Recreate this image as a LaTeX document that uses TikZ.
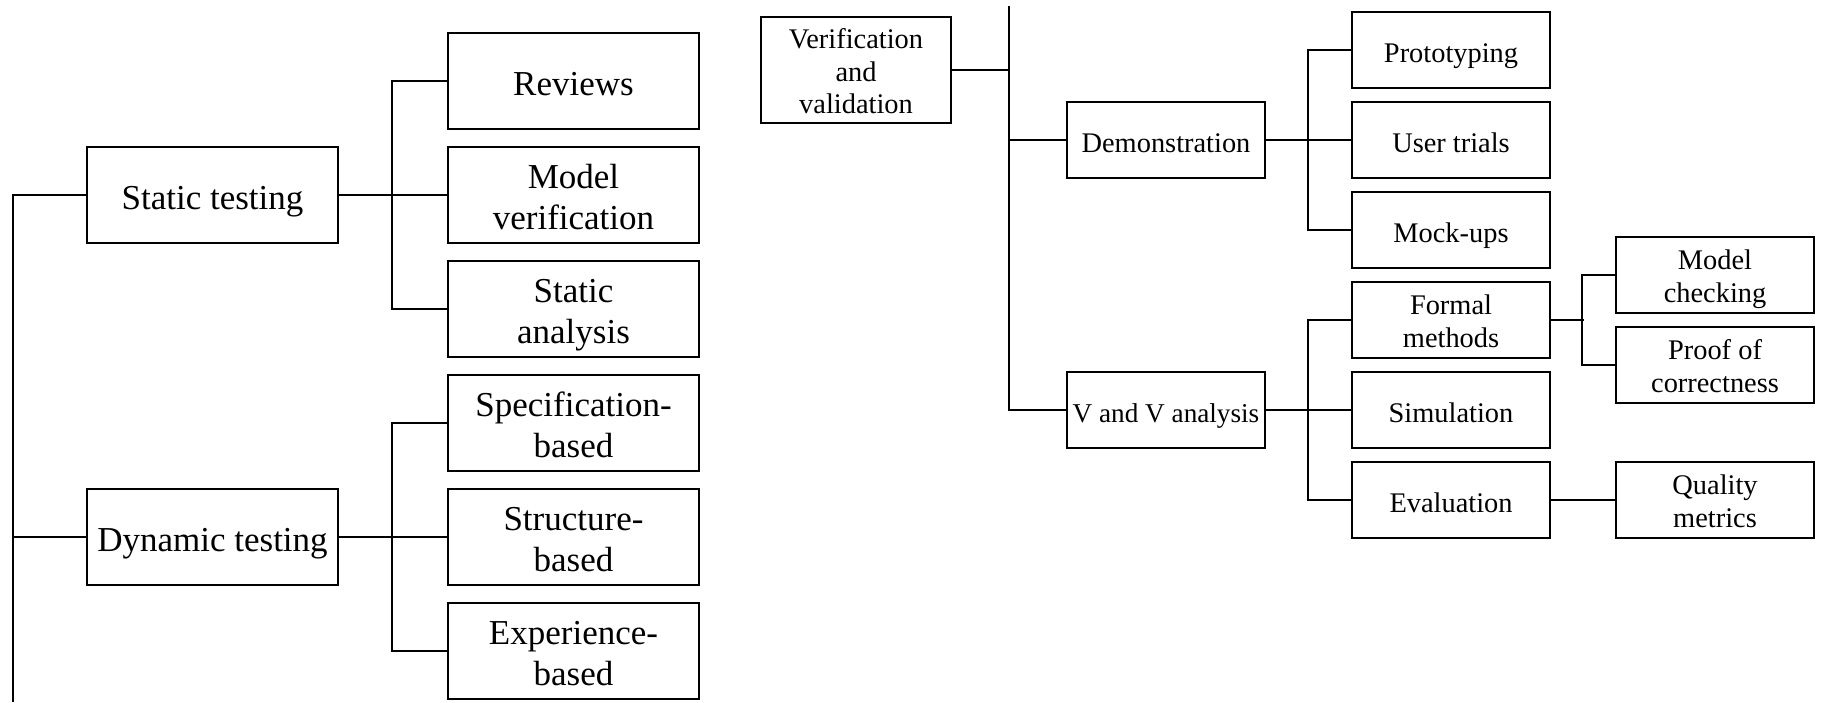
\documentclass[tikz,border=0pt]{standalone}
\usepackage{fontspec}
\setmainfont{Liberation Serif}
\begin{document}
\begin{tikzpicture}[x=0.5pt,y=-0.5pt,
  bx/.style={draw, line width=0.9pt, inner sep=0pt, align=center, text depth=0pt},
  lbox/.style={bx, minimum width=125.5pt, minimum height=48pt, font=\fontsize{17.5pt}{20.3pt}\selectfont},
  rbox/.style={bx, minimum width=99pt, minimum height=38pt, font=\fontsize{14.2pt}{16.3pt}\selectfont},
  lone/.style={lbox, text height=14pt},
  ltwo/.style={lbox, text height=34.2pt},
  rone/.style={rbox, text height=12.3pt},
  rtwo/.style={rbox, text height=27.3pt},
  conn/.style={line width=0.8pt},
  thickc/.style={line width=1.3pt}]
\useasboundingbox (0,0) rectangle (1823,702);
% ---------- left tree ----------
\node[lone] (st) at (212.5,195) {Static testing};
\node[lone] (dt) at (212.5,537) {Dynamic testing};
\node[lone] (rev) at (573.5,81) {Reviews};
\node[ltwo] (mv) at (573.5,195) {Model\\verification};
\node[ltwo] (sa) at (573.5,309) {Static\\analysis};
\node[ltwo] (spec) at (573.5,423) {Specification-\\based};
\node[ltwo] (struc) at (573.5,537) {Structure-\\based};
\node[ltwo] (exp) at (573.5,651) {Experience-\\based};
\coordinate (lbot) at (13,702);
\draw[conn] (st.west) -| (lbot);
\draw[conn] (dt.west) -- (dt.west -| lbot);
\draw[conn] (rev.west) -- ++(-55,0) |- (sa.west);
\draw[conn] (st.east) -- (mv.west);
\draw[thickc] (st.east) -- ++(55,0);
\draw[conn] (spec.west) -- ++(-55,0) |- (exp.west);
\draw[conn] (dt.east) -- (struc.west);
\draw[thickc] (dt.east) -- ++(55,0);
% ---------- right tree ----------
\node[rbox, text height=43.8pt, minimum width=95pt, minimum height=53pt] (vv) at (856,70) {Verification\\and\\validation};
\node[rone] (demo) at (1166,140) {Demonstration};
\node[rone, font=\fontsize{13.6pt}{16.3pt}\selectfont] (vva) at (1166,410) {V and V analysis};
\node[rone] (proto) at (1451,50) {Prototyping};
\node[rone] (user) at (1451,140) {User trials};
\node[rone] (mock) at (1451,230) {Mock-ups};
\node[rtwo] (formal) at (1451,320) {Formal\\methods};
\node[rone] (sim) at (1451,410) {Simulation};
\node[rone] (eval) at (1451,500) {Evaluation};
\node[rtwo] (mc) at (1715,275) {Model\\checking};
\node[rtwo] (proof) at (1715,365) {Proof of\\correctness};
\node[rtwo] (qm) at (1715,500) {Quality\\metrics};
\coordinate (vtop) at (1009,6);
\draw[conn] (vtop) |- (vva.west);
\draw[conn] (demo.west) -- (demo.west -| vtop);
\draw[thickc] (vv.east) -- (vv.east -| vtop);
\draw[conn] (proto.west) -- ++(-43,0) |- (mock.west);
\draw[conn] (demo.east) -- (user.west);
\draw[thickc] (demo.east) -- ++(44,0);
\draw[conn] (formal.west) -- ++(-43,0) |- (eval.west);
\draw[conn] (vva.east) -- (sim.west);
\draw[thickc] (vva.east) -- ++(44,0);
\draw[conn] (mc.west) -- ++(-33,0) |- (proof.west);
\draw[thickc] (formal.east) -- ++(33,0);
\draw[conn] (eval.east) -- (qm.west);
\end{tikzpicture}
\end{document}
